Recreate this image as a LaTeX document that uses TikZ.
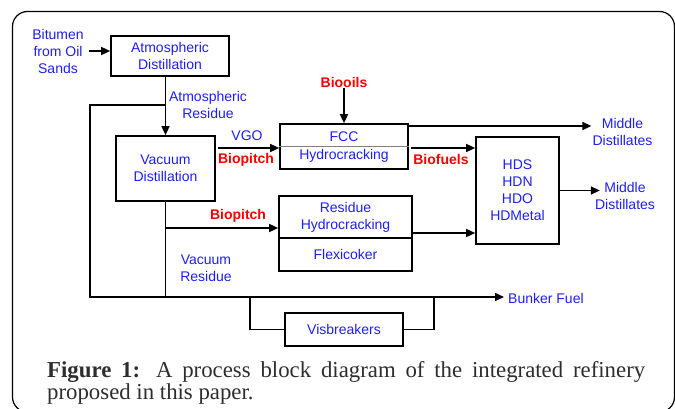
\documentclass[tikz,border=0pt]{standalone}
\usepackage{fontspec}
\setmainfont{Liberation Serif}
\newfontfamily\arialf{Liberation Sans}
\usetikzlibrary{arrows.meta,calc}
\definecolor{txtblue}{RGB}{30,30,245}
\definecolor{txtred}{RGB}{250,0,0}
\definecolor{capgray}{RGB}{45,45,45}
\begin{document}
\begin{tikzpicture}[x=1pt,y=-1pt,
  box/.style={draw=black,line width=1.7pt,rectangle,inner sep=0pt,font=\arialf\fontsize{14}{17}\selectfont,text=txtblue,align=center},
  lbl/.style={font=\arialf\fontsize{14}{17}\selectfont,text=txtblue,align=center,inner sep=1pt},
  rlbl/.style={font=\arialf\bfseries\fontsize{14}{17}\selectfont,text=txtred,inner sep=1pt},
  ln/.style={line width=1.5pt},
  arr/.style={line width=1.5pt,-{Triangle[length=9pt,width=8pt]}},
]
\useasboundingbox (0,0) rectangle (675,409);
\draw[line width=1.2pt, rounded corners=15pt] (12.5,11.5) rectangle (674.5,412);

% boxes
\node[box,minimum width=118pt,minimum height=40pt] (atm) at (170,56) {Atmospheric\\Distillation};
\node[box,minimum width=99pt,minimum height=65pt] (vac) at (165.5,168.5) {Vacuum\\Distillation};
\node[box,minimum width=128pt,minimum height=45pt] (fcc) at (344,146.5) {};
\draw[line width=0.8pt,gray] (fcc.west) -- (fcc.east);
\node[lbl] (fcct) at (344,136.5) {FCC};
\node[lbl] (fccb) at (344,155.5) {Hydrocracking};
\node[box,minimum width=83pt,minimum height=107pt] (hds) at (517.5,190.5) {HDS\\HDN\\HDO\\HDMetal};
\node[box,minimum width=133pt,minimum height=42pt] (res) at (345.5,217) {Residue\\Hydrocracking};
\node[box,minimum width=133pt,minimum height=33pt] (flex) at (345.5,254.5) {Flexicoker};
\node[box,minimum width=118pt,minimum height=33pt] (vis) at (344,329.5) {Visbreakers};

% labels
\node[lbl] (bit) at (58,51) {Bitumen\\from Oil\\Sands};
\node[lbl] (atmres) at (208,105) {Atmospheric\\Residue};
\node[lbl] (vgo) at (247,136) {VGO};
\node[rlbl] (bp1) at (246,160) {Biopitch};
\node[rlbl] (bp2) at (238,216) {Biopitch};
\node[rlbl] (bfu) at (441,159) {Biofuels};
\node[rlbl] (bio) at (344,82) {Biooils};
\node[lbl] (vres) at (206,268.5) {Vacuum\\Residue};
\node[lbl] (md1) at (622.5,131.5) {Middle\\Distillates};
\node[lbl] (md2) at (625,195.5) {Middle\\Distillates};
\node[lbl,anchor=west] (bfl) at (507,298) {Bunker Fuel};

% coordinates
\coordinate (j1) at (165.5,105);
\coordinate (lt) at (90,105);
\coordinate (lb) at (90,297);
\coordinate (vb) at (165.5,297);
\coordinate (j2) at (165.5,228);
\coordinate (v1) at (250,297);
\coordinate (v2) at (434,297);

% connectors
\draw[arr] ([xshift=4pt]bit.east) -- (atm.west |- bit.east);
\draw[arr] (atm.south -| vac.north) -- (vac.north);
\draw[ln] (j1) -- (lt) -- (lb) -- (vb);
\draw[arr,shorten >=3pt] (lb) -- (bfl.west |- lb);
\draw[ln] (vac.south) -- (vb);
\draw[arr] (j2) -- (res.west |- j2);
\draw[arr] ([xshift=2pt]vac.east |- 0,148) -- (fcc.west |- 0,148);
\draw[arr] (bio.south) -- (fcc.north);
\draw[arr] (fcc.east |- 0,126) -- (md1.west |- 0,126);
\draw[arr] ([xshift=2pt]fcc.east |- 0,148) -- (hds.west |- 0,148);
\draw[arr] (hds.east) -- ($(md2.west |- hds.east)+(6,0)$);
\draw[arr] (res.east |- 0,233) -- (hds.west |- 0,233);
\draw[ln] (v1) -- (v1 |- vis.west) -- (vis.west);
\draw[ln] (vis.east) -- (v2 |- vis.east) -- (v2);

% caption
\node[anchor=north west,inner sep=0pt,text width=598pt,align=justify,
      font=\fontsize{22.8}{21.5}\selectfont,text=capgray] (cap) at (47,361.5)
  {\textbf{Figure 1:} A process block diagram of the integrated refinery\linebreak proposed in this paper.};
\end{tikzpicture}
\end{document}
